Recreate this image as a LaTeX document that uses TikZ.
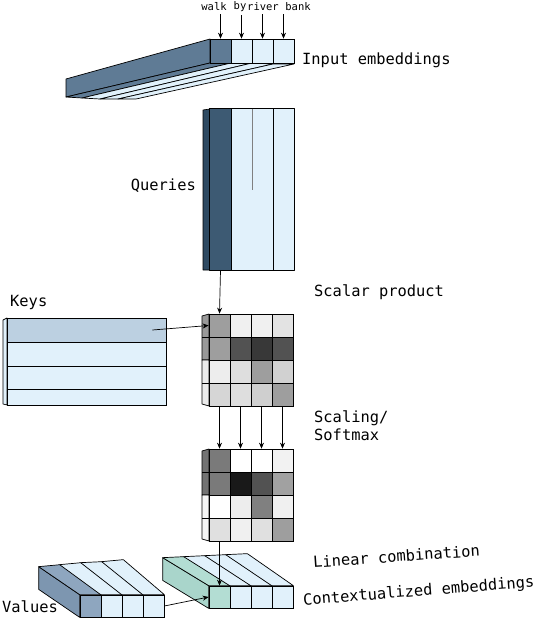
\documentclass[tikz,border=0pt]{standalone}
\usepackage{fontspec}
\setmonofont{DejaVu Sans Mono}
\usetikzlibrary{arrows.meta}
\definecolor{embdark}{HTML}{5F7B95}
\definecolor{qside}{HTML}{2E4A62}
\definecolor{qdark}{HTML}{3D5A73}
\definecolor{pale}{HTML}{E1F1FB}
\definecolor{keytop}{HTML}{BCD0E1}
\definecolor{valdark}{HTML}{8EA6BF}
\definecolor{valside}{HTML}{7D96B0}
\definecolor{ctxgreen}{HTML}{B3DDD3}
\definecolor{ctxside}{HTML}{A9D5CB}
\tikzset{
  cell/.style={draw, line width=0.7pt, inner sep=0pt, minimum width=21pt, minimum height=23pt},
  face/.style={draw, line width=0.7pt, line join=round},
  lbl/.style={font=\ttfamily\fontsize{15.4}{18}\selectfont, inner sep=0pt},
  word/.style={font=\ttfamily\fontsize{10.5}{12}\selectfont, inner sep=0pt},
  arr/.style={-{Stealth[length=6pt,width=5pt]}, line width=0.7pt},
}
\begin{document}
\begin{tikzpicture}[x=1pt, y=-1pt]
\useasboundingbox (0,0) rectangle (538,618);

% input embeddings
\filldraw[face, fill=embdark] (210,39) -- (66,79) -- (66,97) -- (210,63) -- cycle;
\filldraw[face, fill=embdark] (210,63) -- (231,63) -- (82,98) -- (66,97) -- cycle;
\filldraw[face, fill=pale] (231,63) -- (252,63) -- (100,99) -- (82,98) -- cycle;
\filldraw[face, fill=pale] (252,63) -- (273,64) -- (118,99) -- (100,99) -- cycle;
\filldraw[face, fill=pale] (273,64) -- (294,64) -- (136,99) -- (118,99) -- cycle;
\node[cell, fill=embdark, minimum height=24pt] (in1) at (220.5,51) {};
\node[cell, fill=pale, minimum height=24pt] (in2) at (241.5,51) {};
\node[cell, fill=pale, minimum height=24pt] (in3) at (262.5,51) {};
\node[cell, fill=pale, minimum height=24pt] (in4) at (283.5,51) {};
\node[word] (w1) at (214,7) {walk};
\node[word] (w2) at (240,7) {by};
\node[word] (w3) at (263,7) {river};
\node[word] (w4) at (298,7) {bank};
\draw[arr] ([yshift=-3pt]in1.north |- w1.south) -- (in1.north);
\draw[arr] ([yshift=-3pt]in2.north |- w2.south) -- (in2.north);
\draw[arr] ([yshift=-3pt]in3.north |- w3.south) -- (in3.north);
\draw[arr] ([yshift=-3pt]in4.north |- w4.south) -- (in4.north);
\node[lbl, anchor=west] (lin) at (302,60) {Input embeddings};

% queries
\filldraw[face, fill=qside] (203,110) -- (210,109) -- (210,270) -- (203,270) -- cycle;
\node[cell, draw=none, fill=qdark, minimum height=161pt] (q1) at (220.5,189.5) {};
\node[cell, draw=none, fill=pale, minimum height=161pt] (q2) at (241.5,189.5) {};
\node[cell, draw=none, fill=pale, minimum height=161pt] (q3) at (262.5,189.5) {};
\node[cell, draw=none, fill=pale, minimum height=161pt] (q4) at (283.5,189.5) {};
\draw[face] (q1.north west) rectangle (q4.south east);
\draw[face] (q1.north east) -- (q1.south east);
\draw[face] (q3.north east) -- (q3.south east);
\draw[gray, line width=0.5pt] (q2.north east) -- (q2.east);
\node[lbl, anchor=east] (lqry) at (196,186) {Queries};

% keys
\filldraw[face, fill=pale] (3,320) -- (7,318) -- (7,405) -- (3,404) -- cycle;
\node[cell, fill=keytop, minimum width=159pt, minimum height=24pt] (k1) at (86.5,330) {};
\node[cell, fill=pale, minimum width=159pt, minimum height=24pt] (k2) at (86.5,354) {};
\node[cell, fill=pale, minimum width=159pt, minimum height=23pt] (k3) at (86.5,377.5) {};
\node[cell, fill=pale, minimum width=159pt, minimum height=16pt] (k4) at (86.5,397) {};
\node[lbl, anchor=west] (lkey) at (10,302) {Keys};

% scalar product
\filldraw[face, fill=black!40] (202,316) -- (209,314) -- (209,360) -- (202,360) -- cycle;
\filldraw[face, fill=black!8] (202,360) -- (209,360) -- (209,406) -- (202,404) -- cycle;
\draw[face] (202,337) -- (209,337);
\draw[face] (202,383) -- (209,383);
\node[cell, fill=black!38] (s11) at (219.5,325.5) {};
\node[cell, fill=black!6] (s12) at (240.5,325.5) {};
\node[cell, fill=black!6] (s13) at (261.5,325.5) {};
\node[cell, fill=black!11] (s14) at (282.5,325.5) {};
\node[cell, fill=black!38] (s21) at (219.5,348.5) {};
\node[cell, fill=black!68] (s22) at (240.5,348.5) {};
\node[cell, fill=black!78] (s23) at (261.5,348.5) {};
\node[cell, fill=black!68] (s24) at (282.5,348.5) {};
\node[cell, fill=black!7] (s31) at (219.5,371.5) {};
\node[cell, fill=black!13] (s32) at (240.5,371.5) {};
\node[cell, fill=black!38] (s33) at (261.5,371.5) {};
\node[cell, fill=black!18] (s34) at (282.5,371.5) {};
\node[cell, fill=black!16] (s41) at (219.5,394.5) {};
\node[cell, fill=black!13] (s42) at (240.5,394.5) {};
\node[cell, fill=black!19] (s43) at (261.5,394.5) {};
\node[cell, fill=black!38] (s44) at (282.5,394.5) {};
\draw[arr] (q1.south) -- (s11.north);
\draw[arr] ([xshift=-14pt]k1.east) -- (s11.west);
\node[lbl, anchor=west] (lsp) at (314,292) {Scalar product};

% scaling / softmax
\filldraw[face, fill=black!55] (202,451) -- (209,449) -- (209,495) -- (202,495) -- cycle;
\filldraw[face, fill=black!4] (202,495) -- (209,495) -- (209,541) -- (202,539) -- cycle;
\draw[face] (202,472) -- (209,472);
\draw[face] (202,518) -- (209,518);
\node[cell, fill=black!52] (m11) at (219.5,460.5) {};
\node[cell, fill=white] (m12) at (240.5,460.5) {};
\node[cell, fill=white] (m13) at (261.5,460.5) {};
\node[cell, fill=black!5] (m14) at (282.5,460.5) {};
\node[cell, fill=black!52] (m21) at (219.5,483.5) {};
\node[cell, fill=black!90] (m22) at (240.5,483.5) {};
\node[cell, fill=black!68] (m23) at (261.5,483.5) {};
\node[cell, fill=black!37] (m24) at (282.5,483.5) {};
\node[cell, fill=white] (m31) at (219.5,506.5) {};
\node[cell, fill=black!7] (m32) at (240.5,506.5) {};
\node[cell, fill=black!50] (m33) at (261.5,506.5) {};
\node[cell, fill=black!6] (m34) at (282.5,506.5) {};
\node[cell, fill=black!12] (m41) at (219.5,529.5) {};
\node[cell, fill=black!6] (m42) at (240.5,529.5) {};
\node[cell, fill=black!12] (m43) at (261.5,529.5) {};
\node[cell, fill=black!38] (m44) at (282.5,529.5) {};
\draw[arr] (s41.south) -- (m11.north);
\draw[arr] (s42.south) -- (m12.north);
\draw[arr] (s43.south) -- (m13.north);
\draw[arr] (s44.south) -- (m14.north);
\node[lbl, anchor=west, align=left] (lsm) at (314,426) {Scaling/\\Softmax};

% values
\node[cell, fill=valdark, minimum height=22pt] (v1) at (90.5,606) {};
\node[cell, fill=pale, minimum height=22pt] (v2) at (111.5,606) {};
\node[cell, fill=pale, minimum height=22pt] (v3) at (132.5,606) {};
\node[cell, fill=pale, minimum height=22pt] (v4) at (153.5,606) {};
\filldraw[face, fill=valside] (v1.north west) -- (v1.south west) -- ([shift={(-41,-28)}]v1.south west) -- ([shift={(-41,-28)}]v1.north west) -- cycle;
\filldraw[face, fill=valdark] (v1.north west) -- (v1.north east) -- ([shift={(-41,-30)}]v1.north east) -- ([shift={(-41,-28)}]v1.north west) -- cycle;
\filldraw[face, fill=pale] (v2.north west) -- (v2.north east) -- ([shift={(-41,-32)}]v2.north east) -- ([shift={(-41,-30)}]v2.north west) -- cycle;
\filldraw[face, fill=pale] (v3.north west) -- (v3.north east) -- ([shift={(-41,-33)}]v3.north east) -- ([shift={(-41,-32)}]v3.north west) -- cycle;
\filldraw[face, fill=pale] (v4.north west) -- (v4.north east) -- ([shift={(-41,-35)}]v4.north east) -- ([shift={(-41,-33)}]v4.north west) -- cycle;
\node[lbl, anchor=west] (lval) at (2,607) {Values};

% contextualized embeddings
\node[cell, fill=ctxgreen, minimum height=22pt] (c1) at (219.5,597) {};
\node[cell, fill=pale, minimum height=22pt] (c2) at (240.5,597) {};
\node[cell, fill=pale, minimum height=22pt] (c3) at (261.5,597) {};
\node[cell, fill=pale, minimum height=22pt] (c4) at (282.5,597) {};
\filldraw[face, fill=ctxside] (c1.north west) -- (c1.south west) -- ([shift={(-46,-28)}]c1.south west) -- ([shift={(-46,-28)}]c1.north west) -- cycle;
\filldraw[face, fill=ctxgreen] (c1.north west) -- (c1.north east) -- ([shift={(-46,-29)}]c1.north east) -- ([shift={(-46,-28)}]c1.north west) -- cycle;
\filldraw[face, fill=pale] (c2.north west) -- (c2.north east) -- ([shift={(-46,-30)}]c2.north east) -- ([shift={(-46,-29)}]c2.north west) -- cycle;
\filldraw[face, fill=pale] (c3.north west) -- (c3.north east) -- ([shift={(-46,-31)}]c3.north east) -- ([shift={(-46,-30)}]c3.north west) -- cycle;
\filldraw[face, fill=pale] (c4.north west) -- (c4.north east) -- ([shift={(-46,-32)}]c4.north east) -- ([shift={(-46,-31)}]c4.north west) -- cycle;
\draw[arr] (m41.south) -- (c1.north);
\draw[arr] (v4.east) -- (c1.west);
\node[lbl, anchor=west, rotate=4] (llc) at (313,562) {Linear combination};
\node[lbl, anchor=west, rotate=4.5] (lctx) at (303,601) {Contextualized embeddings};

\end{tikzpicture}
\end{document}
